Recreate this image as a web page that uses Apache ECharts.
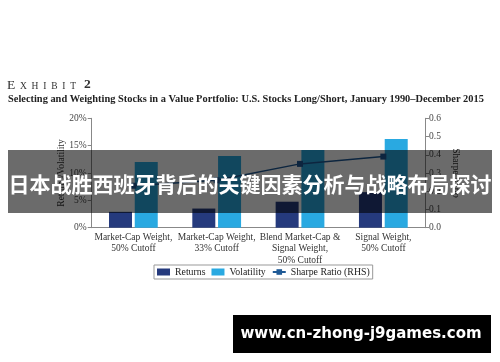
<!DOCTYPE html>
<html><head><meta charset="utf-8">
<script src="https://cdn.jsdelivr.net/npm/echarts@6/dist/echarts.min.js"></script>
<style>html,body{margin:0;padding:0;background:#fff}#c{width:500px;height:362px}</style>
</head><body><div id="c"></div>
<script>
const categories = ['Market-Cap Weight,\n50% Cutoff', 'Market-Cap Weight,\n33% Cutoff', 'Blend Market-Cap &\nSignal Weight,\n50% Cutoff', 'Signal Weight,\n50% Cutoff'];
const returns = [2.9, 3.5, 4.75, 6.5];
const volatility = [12.0, 13.1, 14.2, 16.2];
const sharpe = [0.23, 0.26, 0.35, 0.39];
const leftTicks = [0, 5, 10, 15, 20];
const rightTicks = [0.0, 0.1, 0.2, 0.3, 0.4, 0.5, 0.6];
const titleText = 'Selecting and Weighting Stocks in a Value Portfolio: U.S. Stocks Long/Short, January 1990\u2013December 2015';
const overlayText = '日本战胜西班牙背后的关键因素分析与战略布局探讨';
const urlText = 'www.cn-zhong-j9games.com';

const serif = '"Liberation Serif", "DejaVu Serif", serif';
const chart = echarts.init(document.getElementById('c'), null, {renderer: 'canvas'});
chart.setOption({
  animation: false,
  backgroundColor: '#fff',
  textStyle: {fontFamily: serif},
  grid: {left: 91.7, right: 75, top: 118.3, bottom: 134.3, containLabel: false},
  legend: {
    top: 265, left: 154,
    data: [
      {name: 'Returns', icon: 'rect'},
      {name: 'Volatility', icon: 'rect'},
      {name: 'Sharpe Ratio (RHS)'}
    ],
    itemWidth: 13, itemHeight: 7, itemGap: 6,
    borderColor: '#999', borderWidth: 1, padding: [2, 3],
    textStyle: {fontFamily: serif, fontSize: 9.8, color: '#222'}
  },
  xAxis: {
    type: 'category', data: categories,
    axisLine: {show: true, lineStyle: {color: '#888'}},
    axisTick: {show: false},
    axisLabel: {fontFamily: serif, fontSize: 9.5, color: '#333', lineHeight: 11.5, margin: 4, interval: 0}
  },
  yAxis: [
    {
      type: 'value', min: 0, max: 20, interval: 5,
      name: 'Returns/Volatility', nameLocation: 'middle', nameRotate: 90, nameGap: 25, nameMoveOverlap: false,
      nameTextStyle: {fontFamily: serif, fontSize: 9.5, color: '#333'},
      axisLine: {show: true, lineStyle: {color: '#888'}},
      axisTick: {show: true, length: 4, lineStyle: {color: '#888'}},
      axisLabel: {formatter: '{value}%', fontFamily: serif, fontSize: 9.5, color: '#444', margin: 5},
      splitLine: {show: false}
    },
    {
      type: 'value', min: 0, max: 0.6, interval: 0.1, position: 'right',
      name: 'Sharpe Ratio', nameLocation: 'middle', nameRotate: -90, nameGap: 25, nameMoveOverlap: false,
      nameTextStyle: {fontFamily: serif, fontSize: 9.5, color: '#333'},
      axisLine: {show: true, lineStyle: {color: '#888'}},
      axisTick: {show: true, length: 4, lineStyle: {color: '#888'}},
      axisLabel: {formatter: v => v.toFixed(1), fontFamily: serif, fontSize: 9.5, color: '#444', margin: 4},
      splitLine: {show: false}
    }
  ],
  series: [
    {name: 'Returns', type: 'bar', data: returns, barWidth: 23, barGap: '12%', itemStyle: {color: '#253a7d'}},
    {name: 'Volatility', type: 'bar', data: volatility, barWidth: 23, itemStyle: {color: '#29a9e1'}},
    {name: 'Sharpe Ratio (RHS)', type: 'line', yAxisIndex: 1, data: sharpe,
     symbol: 'rect', symbolSize: 6, lineStyle: {color: '#1f5a96', width: 1.5}, itemStyle: {color: '#1f5a96'}}
  ],
  graphic: [
    {type: 'text', left: 7, top: 78, z: 100, style: {text: 'E', fontFamily: serif, fontSize: 13.5, fill: '#333'}},
    {type: 'text', left: 20, top: 81, z: 100, style: {text: 'X  H  I  B  I  T', fontFamily: serif, fontSize: 9.5, fill: '#333'}},
    {type: 'text', left: 84, top: 78, z: 100, style: {text: '2', fontFamily: serif, fontSize: 13.5, fontWeight: 'bold', fill: '#333'}},
    {type: 'text', left: 8, top: 94, z: 100, style: {text: titleText, fontFamily: serif, fontSize: 10.4, fontWeight: 'bold', fill: '#222'}},
    {type: 'rect', shape: {x: 8, y: 150, width: 484, height: 63}, z: 200, style: {fill: 'rgba(0,0,0,0.58)'}},
    {type: 'text', z: 201, x: 250, y: 184, style: {text: overlayText, fontFamily: '"Noto Sans CJK SC", sans-serif', fontSize: 21, fontWeight: 'bold', fill: '#fff', align: 'center', verticalAlign: 'middle'}},
    {type: 'rect', shape: {x: 233, y: 315, width: 258, height: 38}, z: 200, style: {fill: '#000'}},
    {type: 'text', z: 201, x: 361, y: 334, style: {text: urlText, fontFamily: '"DejaVu Sans", sans-serif', fontSize: 15, fontWeight: 'bold', fill: '#fff', align: 'center', verticalAlign: 'middle'}}
  ]
});
</script></body></html>
